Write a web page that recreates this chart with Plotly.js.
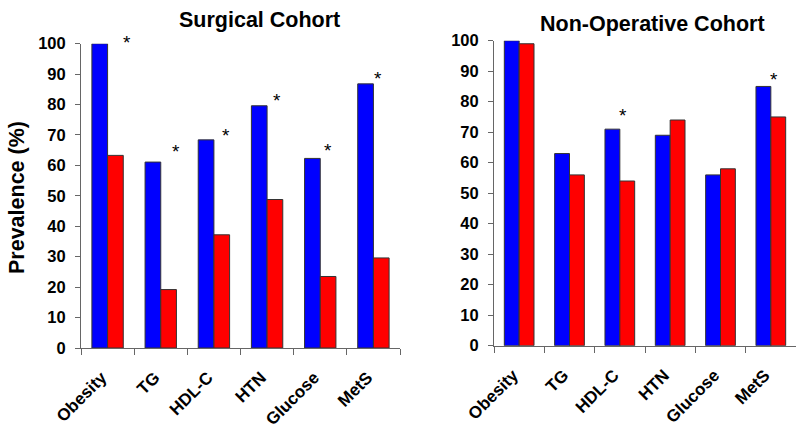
<!DOCTYPE html>
<html>
<head>
<meta charset="utf-8">
<script src="https://cdn.plot.ly/plotly-3.0.1.min.js"></script>
<style>html,body{margin:0;padding:0;background:#fff;}#chart{width:800px;height:430px;}</style>
</head>
<body>
<div id="chart"></div>
<script>
// ---- data ----
var categories = ['Obesity', 'TG', 'HDL-C', 'HTN', 'Glucose', 'MetS'];
var surgicalBaseline = [100, 61.1, 68.4, 79.6, 62.3, 86.8];
var surgicalFollowUp = [63.3, 19.2, 37.2, 48.8, 23.5, 29.6];
var nonOpBaseline = [100, 63, 71, 69, 56, 85];
var nonOpFollowUp = [99, 56, 54, 74, 58, 75];
var surgicalSignificant = [true, true, true, true, true, true];
var nonOpSignificant = [false, false, true, false, false, true];
var yTicks = [0, 10, 20, 30, 40, 50, 60, 70, 80, 90, 100];

// ---- styling / placement ----
var FONT = 'Liberation Sans, Arial, sans-serif';
var BLUE = '#0000FF', RED = '#FF0000';
var surgStarShift = {x: [19, 15.5, 12.5, 9.5, 7.5, 4.5], y: [3.7, 14, 7, 8, 10.7, 8]};
var nonOpStarShift = {x: [3, 3, 3.2, 3, 3, 3.3], y: [10, 10, 17, 10, 10, 10]};

function barTrace(vals, color, xa, ya) {
  return {
    type: 'bar', x: categories, y: vals, xaxis: xa, yaxis: ya,
    marker: {color: color, line: {color: '#333', width: 1}},
    showlegend: false, hoverinfo: 'skip', cliponaxis: false
  };
}

var data = [
  barTrace(surgicalBaseline, BLUE, 'x', 'y'),
  barTrace(surgicalFollowUp, RED, 'x', 'y'),
  barTrace(nonOpBaseline, BLUE, 'x2', 'y2'),
  barTrace(nonOpFollowUp, RED, 'x2', 'y2')
];

var annotations = [];
function addStars(sig, base, xref, yref, shift) {
  for (var i = 0; i < categories.length; i++) {
    if (!sig[i]) continue;
    annotations.push({
      x: categories[i], y: base[i], xref: xref, yref: yref,
      text: '*', showarrow: false, xanchor: 'center', yanchor: 'middle',
      xshift: shift.x[i], yshift: shift.y[i] - 3,
      font: {family: FONT, size: 19, color: '#000'}
    });
  }
}
addStars(surgicalSignificant, surgicalBaseline, 'x', 'y', surgStarShift);
addStars(nonOpSignificant, nonOpBaseline, 'x2', 'y2', nonOpStarShift);

annotations.push({
  text: '<b>Surgical Cohort</b>', xref: 'paper', yref: 'paper',
  x: 259.5 / 800, y: 1 - 20 / 430, xanchor: 'center', yanchor: 'middle',
  showarrow: false, font: {family: FONT, size: 21.5, color: '#000'}
});
annotations.push({
  text: '<b>Non-Operative Cohort</b>', xref: 'paper', yref: 'paper',
  x: 652.5 / 800, y: 1 - 24 / 430, xanchor: 'center', yanchor: 'middle',
  showarrow: false, font: {family: FONT, size: 21.5, color: '#000'}
});
annotations.push({
  text: '<b>Prevalence (%)</b>', xref: 'paper', yref: 'paper',
  x: 17 / 800, y: 1 - 198 / 430, xanchor: 'center', yanchor: 'middle',
  textangle: -90, showarrow: false, font: {family: FONT, size: 21.5, color: '#000'}
});

function xAxis(domain, anchor) {
  return {
    domain: domain, anchor: anchor, type: 'category',
    showline: true, linecolor: '#666', linewidth: 1,
    ticks: 'outside', tickson: 'boundaries', ticklen: 6, tickcolor: '#666',
    tickangle: -45, ticklabelstandoff: 12, ticklabelshift: -6,
    showgrid: false, zeroline: false,
    tickfont: {family: FONT, size: 17, color: '#000', weight: 'bold'},
    fixedrange: true
  };
}
function yAxis(domain, anchor) {
  return {
    domain: domain, anchor: anchor, range: [0, 100],
    tickvals: yTicks, ticktext: yTicks.map(String),
    showline: true, linecolor: '#666', linewidth: 1,
    ticks: 'outside', ticklen: 5, tickcolor: '#666', ticklabelstandoff: 6,
    showgrid: false, zeroline: false,
    tickfont: {family: FONT, size: 16.5, color: '#000', weight: 'bold'},
    fixedrange: true
  };
}

var layout = {
  width: 800, height: 430,
  margin: {l: 0, r: 0, t: 0, b: 0},
  paper_bgcolor: '#fff', plot_bgcolor: '#fff',
  barmode: 'group', bargap: 0.41, bargroupgap: 0,
  xaxis: xAxis([81 / 800, 400 / 800], 'y'),
  yaxis: yAxis([82 / 430, 386.3 / 430], 'x'),
  xaxis2: xAxis([494 / 800, 796 / 800], 'y2'),
  yaxis2: yAxis([84.3 / 430, 389.3 / 430], 'x2'),
  annotations: annotations,
  font: {family: FONT}
};

Plotly.newPlot('chart', data, layout, {displayModeBar: false, staticPlot: true});
</script>
</body>
</html>
